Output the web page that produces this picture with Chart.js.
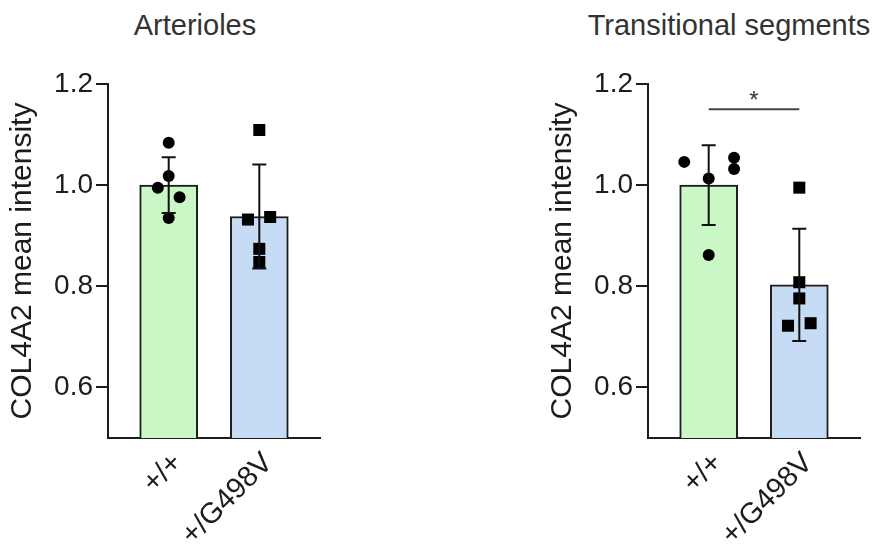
<!DOCTYPE html>
<html>
<head>
<meta charset="utf-8">
<script src="https://cdn.jsdelivr.net/npm/chart.js@4.4.1/dist/chart.umd.min.js"></script>
<style>
  body { margin: 0; background: #fff; font-family: "Liberation Sans", Arial, sans-serif; }
  #wrap { position: relative; width: 881px; height: 550px; overflow: hidden; }
  .panel { position: absolute; top: 0; width: 340px; height: 550px; }
  .title { position: absolute; top: 9px; width: 300px; text-align: center; font-size: 29px; color: #333; white-space: nowrap; }
</style>
</head>
<body>
<div id="wrap">
  <div class="title" style="left:45px">Arterioles</div>
  <div class="title" style="left:579px">Transitional segments</div>
  <div class="panel" style="left:0"><canvas id="arterioles" width="340" height="550"></canvas></div>
  <div class="panel" style="left:540px"><canvas id="transitional" width="340" height="550"></canvas></div>
</div>
<script>
// Groups and axis ticks
const groups = ['+/+', '+/G498V'];
const groupX = [1, 2];
const yTicks = [0.6, 0.8, 1.0, 1.2];

// Arterioles
const arteriolesMean = [1.0, 0.938];
const arteriolesSD = [0.055, 0.103];
const arteriolesWT = [1.084, 1.018, 0.995, 0.976, 0.935];
const arteriolesWTJitter = [0, 0, -0.12, 0.12, 0];
const arteriolesMut = [1.109, 0.932, 0.937, 0.874, 0.848];
const arteriolesMutJitter = [0, -0.125, 0.12, 0, 0];

// Transitional segments
const transMean = [1.0, 0.803];
const transSD = [0.079, 0.111];
const transWT = [1.046, 1.013, 1.054, 1.032, 0.862];
const transWTJitter = [-0.27, 0, 0.28, 0.28, 0];
const transMut = [0.995, 0.808, 0.776, 0.722, 0.727];
const transMutJitter = [0, 0, 0, -0.125, 0.125];
const transSignificance = 1.15;

const FONT = '"Liberation Sans", Arial, sans-serif';
const INK = '#1c1c1c';

// mean ± SD whiskers and the significance bracket, drawn through the scales
const errorBarPlugin = {
    id: 'errorBars',
    afterDatasetsDraw(chart, args, opts) {
        const ctx = chart.ctx;
        const x = chart.scales.x, y = chart.scales.y;
        ctx.save();
        ctx.strokeStyle = '#111';
        ctx.lineWidth = 2;
        opts.mean.forEach((m, i) => {
            const px = x.getPixelForValue(groupX[i]);
            const top = y.getPixelForValue(m + opts.sd[i]);
            const bottom = y.getPixelForValue(m - opts.sd[i]);
            ctx.beginPath();
            ctx.moveTo(px, top); ctx.lineTo(px, bottom);
            ctx.moveTo(px - 7, top); ctx.lineTo(px + 7, top);
            ctx.moveTo(px - 7, bottom); ctx.lineTo(px + 7, bottom);
            ctx.stroke();
        });
        if (opts.sigY) {
            const x1 = x.getPixelForValue(groupX[0]);
            const x2 = x.getPixelForValue(groupX[1]);
            const sy = y.getPixelForValue(opts.sigY);
            ctx.strokeStyle = '#444';
            ctx.beginPath();
            ctx.moveTo(x1, sy); ctx.lineTo(x2, sy);
            ctx.stroke();
            ctx.fillStyle = '#333';
            ctx.font = '24px ' + FONT;
            ctx.textAlign = 'center';
            ctx.textBaseline = 'alphabetic';
            ctx.fillText('*', (x1 + x2) / 2, sy - 1);
        }
        ctx.restore();
    }
};

function makeChart(id, mean, sd, wt, wtJitter, mut, mutJitter, sigY) {
    return new Chart(document.getElementById(id), {
        type: 'bar',
        data: {
            datasets: [
                {
                    type: 'scatter',
                    data: wt.map((v, i) => ({ x: groupX[0] + wtJitter[i], y: v })),
                    pointStyle: 'circle',
                    pointRadius: 6,
                    backgroundColor: '#000',
                    borderWidth: 0,
                    order: 0
                },
                {
                    type: 'scatter',
                    data: mut.map((v, i) => ({ x: groupX[1] + mutJitter[i], y: v })),
                    pointStyle: 'rect',
                    pointRadius: 8.5,
                    backgroundColor: '#000',
                    borderWidth: 0,
                    order: 0
                },
                {
                    type: 'bar',
                    data: groupX.map((x, i) => ({ x: x, y: mean[i] })),
                    backgroundColor: ['#c9f8c6', '#c6dbf4'],
                    borderColor: INK,
                    borderWidth: 2,
                    borderSkipped: 'start',
                    barThickness: 58,
                    order: 2
                }
            ]
        },
        options: {
            responsive: false,
            animation: false,
            layout: { padding: { top: 84, right: 20, left: 0, bottom: 0 } },
            scales: {
                x: {
                    type: 'linear',
                    min: 0.33,
                    max: 2.67,
                    offset: false,
                    afterBuildTicks: s => { s.ticks = groupX.map(v => ({ value: v })); },
                    afterFit: s => { s.height = 112; },
                    ticks: {
                        callback: (v, i) => groups[i],
                        autoSkip: false,
                        minRotation: 45,
                        maxRotation: 45,
                        padding: 8,
                        labelOffset: 9,
                        color: INK,
                        font: { family: FONT, size: 29 }
                    },
                    grid: { display: false, drawTicks: false },
                    border: { color: INK, width: 2 }
                },
                y: {
                    min: 0.5,
                    max: 1.2,
                    afterBuildTicks: s => { s.ticks = yTicks.map(v => ({ value: v })); },
                    afterFit: s => { s.width = 108; },
                    ticks: {
                        callback: v => v.toFixed(1),
                        padding: 3,
                        color: INK,
                        font: { family: FONT, size: 28 }
                    },
                    grid: {
                        display: true,
                        drawOnChartArea: false,
                        drawTicks: true,
                        tickLength: 12,
                        color: INK,
                        lineWidth: 2
                    },
                    border: { color: INK, width: 2 },
                    title: {
                        display: true,
                        text: 'COL4A2 mean intensity',
                        color: INK,
                        font: { family: FONT, size: 30 },
                        padding: { top: 5, bottom: 3 }
                    }
                }
            },
            plugins: {
                legend: { display: false },
                tooltip: { enabled: false },
                errorBars: { mean: mean, sd: sd, sigY: sigY }
            }
        },
        plugins: [errorBarPlugin]
    });
}

makeChart('arterioles', arteriolesMean, arteriolesSD, arteriolesWT, arteriolesWTJitter,
    arteriolesMut, arteriolesMutJitter, null);
makeChart('transitional', transMean, transSD, transWT, transWTJitter,
    transMut, transMutJitter, transSignificance);
</script>
</body>
</html>
